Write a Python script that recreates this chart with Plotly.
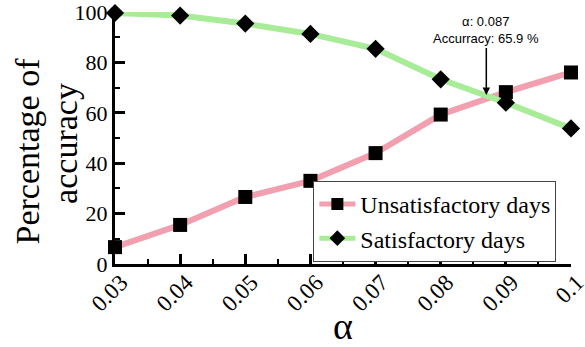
import plotly.graph_objects as go

alpha = [0.03, 0.04, 0.05, 0.06, 0.07, 0.08, 0.09, 0.1]
alpha_labels = ["0.03", "0.04", "0.05", "0.06", "0.07", "0.08", "0.09", "0.1"]
unsatisfactory = [6.7, 15.5, 26.6, 33.0, 44.0, 59.3, 68.2, 76.0]
satisfactory = [99.6, 98.6, 95.4, 91.3, 85.4, 73.3, 64.0, 53.8]
cross_alpha = 0.087
cross_acc = 65.9

SERIF = "Liberation Serif, Times New Roman, serif"
SANS = "Liberation Sans, Arial, sans-serif"

fig = go.Figure()
fig.add_trace(go.Scatter(
    x=alpha, y=unsatisfactory, mode="lines+markers", name="Unsatisfactory days",
    line=dict(color="#f2a0b0", width=6),
    marker=dict(symbol="square", size=14, color="black"),
    cliponaxis=False,
))
fig.add_trace(go.Scatter(
    x=alpha, y=satisfactory, mode="lines+markers", name="Satisfactory days",
    line=dict(color="#a8ec98", width=6),
    marker=dict(symbol="diamond", size=14, color="black"),
    cliponaxis=False,
))

# value callout at the crossing point
fig.add_annotation(
    x=cross_alpha, y=cross_acc, xref="x", yref="y",
    text=f"α: {cross_alpha}<br>Accurracy: {cross_acc} %",
    showarrow=True, arrowhead=2, arrowsize=1, arrowwidth=1.5, arrowcolor="black",
    standoff=3, ax=0, ay=-50, font=dict(family=SANS, size=13, color="black"),
    yanchor="bottom",
)

# two-line y-axis title
fig.add_annotation(
    x=-0.191, y=0.45, xref="paper", yref="paper", text="Percentage of",
    textangle=-90, showarrow=False, xanchor="center", yanchor="middle",
    font=dict(family=SERIF, size=34, color="black"),
)
fig.add_annotation(
    x=-0.11, y=0.48, xref="paper", yref="paper", text="accuracy",
    textangle=-90, showarrow=False, xanchor="center", yanchor="middle",
    font=dict(family=SERIF, size=34, color="black"),
)

fig.update_layout(
    width=585, height=347,
    margin=dict(l=115, r=14, t=12, b=83, autoexpand=False),
    paper_bgcolor="white", plot_bgcolor="white",
    font=dict(family=SERIF, color="black"),
    showlegend=True,
    legend=dict(
        x=0.435, y=0.33, xanchor="left", yanchor="top",
        bgcolor="white", bordercolor="#444", borderwidth=1,
        font=dict(family=SERIF, size=24),
        tracegroupgap=0, itemsizing="constant", itemwidth=36,
    ),
    xaxis=dict(
        range=[0.03, 0.1], tickvals=alpha, ticktext=alpha_labels,
        tickangle=-45, tickfont=dict(family=SERIF, size=23),
        ticklabelshift=6, ticklabelstandoff=-7,
        ticks="inside", ticklen=10, tickwidth=2.5, tickcolor="black",
        minor=dict(ticks="inside", ticklen=5, tickwidth=1.5, tickcolor="black", dtick=0.005),
        showline=True, linecolor="black", linewidth=3,
        showgrid=False, zeroline=False, automargin=False, ticklabeloverflow="allow",
        title=dict(text="α", font=dict(family=SERIF, size=38), standoff=2),
    ),
    yaxis=dict(
        range=[0, 100], tickvals=[0, 20, 40, 60, 80, 100],
        tickfont=dict(family=SERIF, size=22),
        ticks="inside", ticklen=10, tickwidth=2.5, tickcolor="black",
        minor=dict(ticks="inside", ticklen=5, tickwidth=1.5, tickcolor="black", dtick=10),
        showline=True, linecolor="black", linewidth=3,
        showgrid=False, zeroline=False, automargin=False, ticklabeloverflow="allow",
    ),
)

fig.write_html("out.html")
